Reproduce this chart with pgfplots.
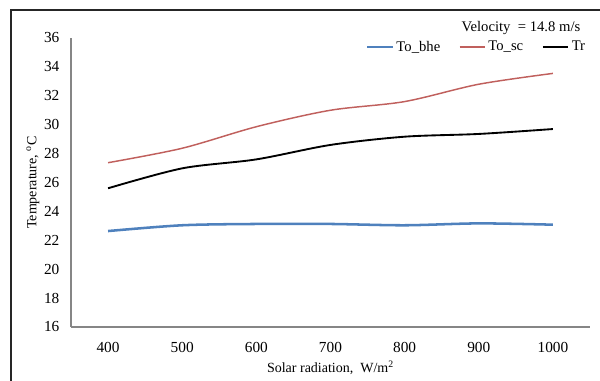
\documentclass[border=0pt]{standalone}
\usepackage{fontspec}
\setmainfont{Liberation Serif}
\usepackage{pgfplots}
\pgfplotsset{compat=1.18}
\definecolor{cblue}{HTML}{4F81BD}
\definecolor{cred}{HTML}{C0605D}
\definecolor{caxis}{HTML}{868686}
\begin{document}
\begin{tikzpicture}
\useasboundingbox (0pt,0pt) rectangle (450pt,285.75pt);
\draw[line width=1.1pt, black!85] (8.25pt,0pt) -- (8.25pt,278.25pt) -- (450pt,278.25pt);
\begin{axis}[
  at={(53.25pt,40.5pt)}, anchor=south west,
  scale only axis, width=389.25pt, height=216.75pt,
  xmin=350, xmax=1050, ymin=16, ymax=36,
  xtick={400,500,...,1000}, ytick={16,18,...,36},
  axis x line*=bottom, axis y line*=left,
  axis line style={-, draw=caxis, line width=1.1pt},
  major tick style={draw=none},
  ticklabel style={font=\fontsize{11.5}{13}\selectfont},
  /pgf/number format/assume math mode=true,
  /pgf/number format/1000 sep={},
  xticklabel style={anchor=center, inner sep=0pt, yshift=-15pt},
  yticklabel style={anchor=east, inner sep=0pt, xshift=-8.5pt},
  xlabel={Solar radiation,\ \ W/m\textsuperscript{2}},
  ylabel={Temperature,\ \textsuperscript{o}C},
  label style={font=\fontsize{10.5}{12}\selectfont},
  xlabel style={at={([yshift=-30.75pt]axis description cs:0.5,0)}, anchor=center},
  ylabel style={at={([xshift=-28.5pt]axis description cs:0,0.5)}, anchor=center},
  legend columns=3,
  legend style={draw=none, fill=none, at={(rel axis cs:0.782,0.969)}, anchor=center,
    font=\fontsize{11}{12}\selectfont, inner sep=0pt,
    /tikz/every even column/.append style={column sep=12pt}},
  legend cell align=left,
  legend image code/.code={\draw[#1] (0pt,0pt) -- (19pt,0pt);},
  clip=false,
]
\addplot[cblue, line width=1.9pt, smooth] coordinates {
  (400,22.64) (500,23.04) (600,23.13) (700,23.13) (800,23.04) (900,23.17) (1000,23.08)};
\addlegendentry{To\_bhe}
\addplot[cred, line width=1.1pt, smooth] coordinates {
  (400,27.37) (500,28.37) (600,29.86) (700,31.0) (800,31.6) (900,32.8) (1000,33.55)};
\addlegendentry{To\_sc}
\addplot[black, line width=1.4pt, smooth] coordinates {
  (400,25.6) (500,26.98) (600,27.6) (700,28.6) (800,29.17) (900,29.36) (1000,29.7)};
\addlegendentry{Tr}
\node[font=\fontsize{11}{12}\selectfont] at (rel axis cs:0.867,1.035) {Velocity\ \ = 14.8 m/s};
\end{axis}
\end{tikzpicture}
\end{document}
